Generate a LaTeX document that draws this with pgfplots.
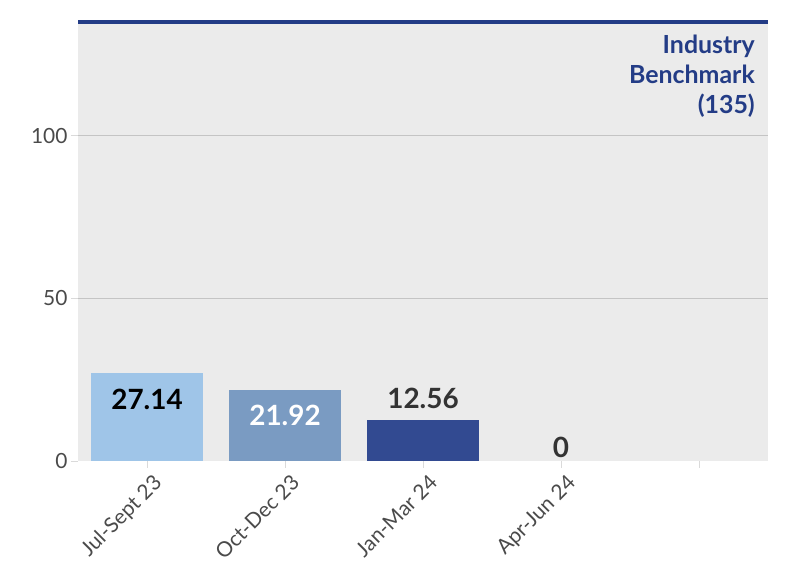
\documentclass[border=0pt]{standalone}
\usepackage{pgfplots}
\pgfplotsset{compat=1.18}
\usepackage{fontspec}
\setmainfont{Lato}

\definecolor{bgcol}{HTML}{EBEBEB}
\definecolor{bench}{HTML}{233C86}
\definecolor{barA}{HTML}{9FC5E8}
\definecolor{barB}{HTML}{7A9BC2}
\definecolor{barC}{HTML}{324A91}
\definecolor{ticktext}{HTML}{4A4A4A}
\definecolor{valtext}{HTML}{333333}
\definecolor{gridcol}{HTML}{C4C4C4}
\definecolor{tickcol}{HTML}{DADADA}

\begin{document}
\begin{tikzpicture}
\useasboundingbox (0,0) rectangle (796bp,575bp);
\begin{axis}[
	at = {(78bp,114bp)},
	anchor = south west,
	scale only axis,
	width = 690bp,
	height = 439bp,
	xmin = -0.5, xmax = 4.5,
	ymin = 0, ymax = 135,
	clip = false,
	axis background/.style = {fill = bgcol},
	axis line style = {draw = none},
	ybar,
	bar width = 0.805,
	every axis plot/.append style = {bar shift = 0pt, draw = none},
	xtick = {0, 1, 2, 3, 4},
	xticklabels = {Jul-Sept 23, Oct-Dec 23, Jan-Mar 24, Apr-Jun 24, {}},
	xticklabel style = {rotate = 45, anchor = north east, font = \fontsize{21}{24}\selectfont, text = ticktext, inner sep = 2pt, yshift = -5bp, xshift = 2bp},
	ytick = {50, 100},
	extra y ticks = {0},
	extra y tick style = {grid = none},
	yticklabel style = {font = \fontsize{21}{24}\selectfont, text = ticktext},
	/pgf/number format/assume math mode = true,
	ymajorgrids,
	major grid style = {gridcol, line width = 0.8pt},
	tick align = outside,
	tick pos = left,
	major tick length = 7bp,
	tick style = {tickcol, line width = 0.8pt},
	nodes near coords = {\pgfmathprintnumber[fixed, precision = 2]{\pgfplotspointmeta}},
	nodes near coords style = {font = \fontsize{28}{30}\bfseries\selectfont},
]
\addplot[fill = barA, every node near coord/.append style = {anchor = north, yshift = -13bp, text = black}]
	coordinates {(0, 27.14)};
\addplot[fill = barB, every node near coord/.append style = {anchor = north, yshift = -12bp, text = white}]
	coordinates {(1, 21.92)};
\addplot[fill = barC, every node near coord/.append style = {yshift = 8bp, text = valtext}]
	coordinates {(2, 12.56)};
\addplot[fill = none, every node near coord/.append style = {text = valtext}]
	coordinates {(3, 0)};
% benchmark line
\addplot[sharp plot, draw = bench, line width = 4bp, nodes near coords = {}, forget plot]
	coordinates {(-0.5, 135) (4.5, 135)};
\node[anchor = north east, align = right, text = bench,
	font = \fontsize{25}{30}\bfseries\selectfont, inner sep = 0pt]
	at (axis cs:4.5, 135) [xshift = -13bp, yshift = -13bp] {Industry\\Benchmark\\(135)};
\end{axis}
\end{tikzpicture}
\end{document}
